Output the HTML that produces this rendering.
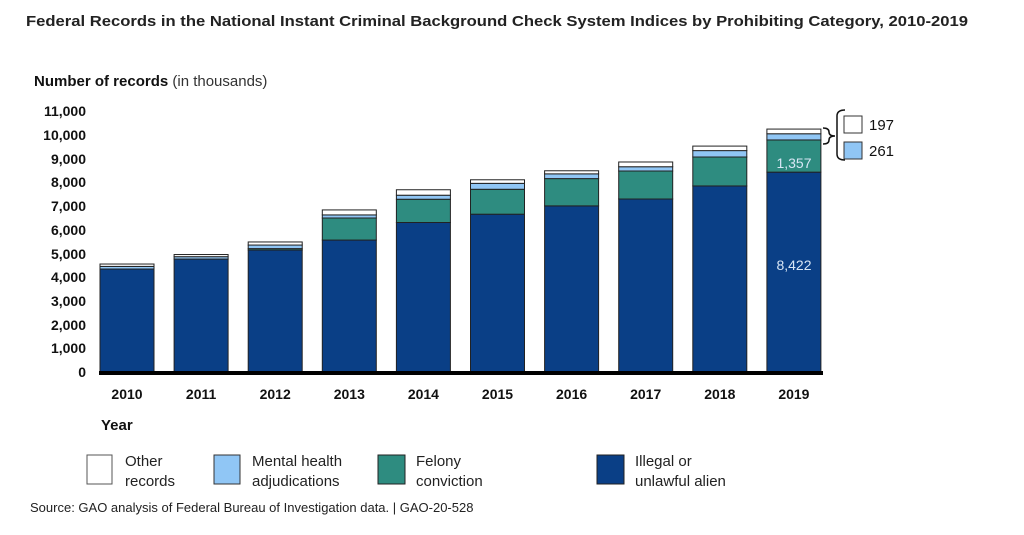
<!DOCTYPE html>
<html><head><meta charset="utf-8"><style>
body{margin:0;background:#fff;width:1024px;height:535px;overflow:hidden}
svg{display:block}
text{font-family:"Liberation Sans",Arial,sans-serif}
</style></head><body>
<svg width="1024" height="535" viewBox="0 0 1024 535" xmlns="http://www.w3.org/2000/svg">
<text x="26" y="26" font-size="15" font-weight="bold" fill="#222" textLength="942" lengthAdjust="spacingAndGlyphs">Federal Records in the National Instant Criminal Background Check System Indices by Prohibiting Category, 2010-2019</text>
<text x="34" y="86" font-size="15" fill="#111"><tspan font-weight="bold">Number of records</tspan><tspan fill="#333"> (in thousands)</tspan></text>
<g font-size="14" font-weight="bold" fill="#111" text-anchor="end">
<text x="86" y="116">11,000</text><text x="86" y="140">10,000</text><text x="86" y="164">9,000</text><text x="86" y="187">8,000</text><text x="86" y="211">7,000</text><text x="86" y="235">6,000</text><text x="86" y="259">5,000</text><text x="86" y="282">4,000</text><text x="86" y="306">3,000</text><text x="86" y="330">2,000</text><text x="86" y="353">1,000</text><text x="86" y="377">0</text>
</g>
<g id="bars" stroke="#222" stroke-width="1"></g>
<rect x="99" y="371" width="724" height="4" fill="#000"/>
<g font-size="14" font-weight="bold" fill="#111" text-anchor="middle" id="yrs"></g>
<text x="101" y="430" font-size="15" font-weight="bold" fill="#111">Year</text>
<text x="794" y="168" font-size="14" fill="#d8e6f5" text-anchor="middle">1,357</text>
<text x="794" y="270" font-size="14" fill="#d8e6f5" text-anchor="middle">8,422</text>
<path d="M823,128 q6,0 6,4 q0,4 6,4 q-6,0 -6,4 q0,4 -6,4" fill="none" stroke="#111" stroke-width="1.5"/>
<path d="M845,110 q-8,0 -8,6 v38 q0,6 8,6" fill="none" stroke="#111" stroke-width="1.5"/>
<rect x="844" y="116" width="18" height="17" fill="#fff" stroke="#333"/>
<text x="869" y="130" font-size="15" fill="#111">197</text>
<rect x="844" y="142" width="18" height="17" fill="#90c6f5" stroke="#333"/>
<text x="869" y="156" font-size="15" fill="#111">261</text>
<g font-size="15" fill="#222">
<rect x="87" y="455" width="25" height="29" fill="#fff" stroke="#555"/>
<text x="125" y="466">Other</text><text x="125" y="486">records</text>
<rect x="214" y="455" width="26" height="29" fill="#90c6f5" stroke="#333"/>
<text x="252" y="466">Mental health</text><text x="252" y="486">adjudications</text>
<rect x="378" y="455" width="27" height="29" fill="#2e8c80" stroke="#222"/>
<text x="416" y="466">Felony</text><text x="416" y="486">conviction</text>
<rect x="597" y="455" width="27" height="29" fill="#0a3f86" stroke="#222"/>
<text x="635" y="466">Illegal or</text><text x="635" y="486">unlawful alien</text>
</g>
<text x="30" y="512" font-size="13" fill="#222">Source: GAO analysis of Federal Bureau of Investigation data.  |  GAO-20-528</text>
</svg>
<script>
var d=[[4340,4340,4450,4550],[4760,4760,4860,4950],[5140,5200,5350,5480],[5560,6490,6620,6830],[6300,7280,7450,7680],[6650,7700,7950,8100],[7000,8150,8350,8480],[7290,8470,8650,8850],[7840,9060,9330,9520],[8422,9779,10040,10237]];
var cols=["#0a3f86","#2e8c80","#90c6f5","#fff"];
var g=document.getElementById('bars'),yg=document.getElementById('yrs'),ns="http://www.w3.org/2000/svg";
function Y(v){return 372-v*0.02373;}
d.forEach(function(r,i){var x=100+i*74.1,prev=0;
for(var k=0;k<4;k++){var a=Y(prev),b=Y(r[k]);if(b<a){var e=document.createElementNS(ns,'rect');e.setAttribute('x',x);e.setAttribute('width',54);e.setAttribute('y',b);e.setAttribute('height',a-b);e.setAttribute('fill',cols[k]);g.appendChild(e);}prev=r[k];}
var t=document.createElementNS(ns,'text');t.setAttribute('x',x+27);t.setAttribute('y',399);t.textContent=2010+i;yg.appendChild(t);});
</script>
</body></html>
